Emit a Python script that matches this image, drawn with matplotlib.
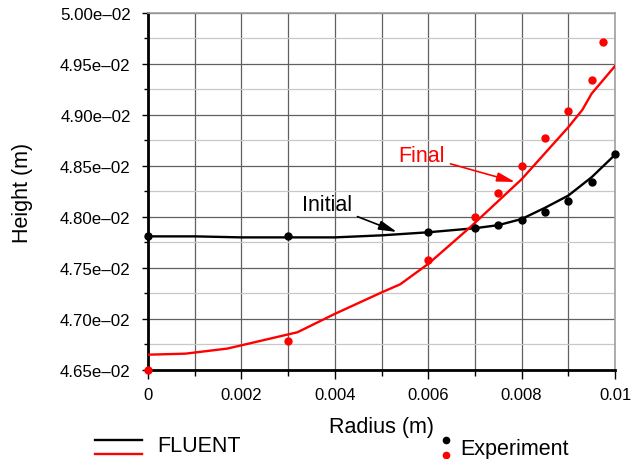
import matplotlib
matplotlib.use("Agg")
import matplotlib.pyplot as plt
from matplotlib.lines import Line2D
from matplotlib.ticker import MultipleLocator, FuncFormatter

plt.rcParams["font.family"] = ["Liberation Sans", "DejaVu Sans"]

# FLUENT profiles (radius in m, height in m)
fluent_initial_r = [0, 0.001, 0.002, 0.003, 0.004, 0.005, 0.006, 0.007,
                    0.0075, 0.008, 0.0085, 0.009, 0.0095, 0.01]
fluent_initial_h = [4.781e-2, 4.781e-2, 4.780e-2, 4.780e-2, 4.780e-2, 4.782e-2,
                    4.785e-2, 4.789e-2, 4.792e-2, 4.798e-2, 4.809e-2, 4.821e-2,
                    4.839e-2, 4.861e-2]

fluent_final_r = [0, 0.0008, 0.0017, 0.0032, 0.004, 0.005, 0.0054, 0.006,
                  0.0069, 0.008, 0.009, 0.0093, 0.0095, 0.01]
fluent_final_h = [4.665e-2, 4.666e-2, 4.671e-2, 4.687e-2, 4.705e-2, 4.726e-2,
                  4.734e-2, 4.754e-2, 4.790e-2, 4.837e-2, 4.888e-2, 4.905e-2,
                  4.921e-2, 4.948e-2]

# experiment points
exp_initial_r = [0, 0.003, 0.006, 0.007, 0.0075, 0.008, 0.0085, 0.009, 0.0095, 0.01]
exp_initial_h = [4.781e-2, 4.781e-2, 4.785e-2, 4.789e-2, 4.792e-2, 4.797e-2,
                 4.805e-2, 4.816e-2, 4.834e-2, 4.862e-2]

exp_final_r = [0, 0.003, 0.006, 0.007, 0.0075, 0.008, 0.0085, 0.009, 0.0095, 0.00975]
exp_final_h = [4.650e-2, 4.678e-2, 4.758e-2, 4.800e-2, 4.824e-2, 4.850e-2,
               4.877e-2, 4.904e-2, 4.934e-2, 4.972e-2]

fig = plt.figure(figsize=(6.44, 4.60), dpi=100)
ax = fig.add_axes([0.2298, 0.1935, 0.7252, 0.7761])

ax.plot(fluent_initial_r, fluent_initial_h, color="black", lw=1.7, zorder=3)
ax.plot(fluent_final_r, fluent_final_h, color="red", lw=1.7, zorder=3)
ax.plot(exp_initial_r, exp_initial_h, "o", color="black", ms=5, zorder=4, clip_on=False)
ax.plot(exp_final_r, exp_final_h, "o", color="red", ms=5, zorder=4, clip_on=False)

ax.set_xlim(0, 0.01)
ax.set_ylim(0.0465, 0.0500)

ax.xaxis.set_major_locator(MultipleLocator(0.002))
ax.xaxis.set_minor_locator(MultipleLocator(0.001))
ax.yaxis.set_major_locator(MultipleLocator(0.0005))
ax.yaxis.set_minor_locator(MultipleLocator(0.00025))


def xfmt(v, pos):
    return "0" if abs(v) < 1e-12 else f"{v:g}"


def yfmt(v, pos):
    return f"{v:.2e}".replace("-", "\u2013")


ax.xaxis.set_major_formatter(FuncFormatter(xfmt))
ax.yaxis.set_major_formatter(FuncFormatter(yfmt))

ax.tick_params(axis="x", which="major", direction="out", length=6.5, width=1,
               labelsize=12, pad=6)
ax.tick_params(axis="x", which="minor", direction="out", length=4, width=1)
ax.tick_params(axis="y", which="major", direction="out", length=4.5, width=1,
               labelsize=12.2, pad=8)
ax.tick_params(axis="y", which="minor", direction="out", length=3, width=1)

ax.grid(True, which="major", axis="both", color="#606060", lw=0.9)
ax.grid(True, which="minor", axis="x", color="#606060", lw=0.9)
ax.grid(True, which="minor", axis="y", color="#c8c8c8", lw=0.9)
ax.set_axisbelow(True)

ax.spines["left"].set_linewidth(2)
ax.spines["bottom"].set_linewidth(2)
for s in ("top", "right"):
    ax.spines[s].set_color("#a0a0a0")
    ax.spines[s].set_linewidth(1.2)

ax.set_xlabel("Radius (m)", fontsize=15.5, labelpad=10)
ax.set_ylabel("Height (m)", fontsize=15.5, labelpad=19)

ax.annotate("Initial", xy=(0.00533, 0.047853), xytext=(0.00437, 0.04812),
            ha="right", va="center", fontsize=15.5, color="black",
            arrowprops=dict(arrowstyle="-|>,head_length=0.7,head_width=0.18",
                            color="black", lw=1.2, shrinkA=2, shrinkB=0))
ax.annotate("Final", xy=(0.00786, 0.048343), xytext=(0.00636, 0.04860),
            ha="right", va="center", fontsize=15.5, color="red",
            arrowprops=dict(arrowstyle="-|>,head_length=0.7,head_width=0.18",
                            color="red", lw=1.2, shrinkA=2, shrinkB=0))

# legend drawn below the axes
fig.add_artist(Line2D([95 / 644, 142 / 644], [1 - 441 / 460, 1 - 441 / 460], color="black", lw=1.7))
fig.add_artist(Line2D([95 / 644, 142 / 644], [1 - 455 / 460, 1 - 455 / 460], color="red", lw=1.7))
fig.text(157 / 644, 1 - 447 / 460, "FLUENT", fontsize=15.5, va="center", ha="left")
fig.add_artist(Line2D([446 / 644], [1 - 441 / 460], marker="o", color="black", ms=4.5, lw=0))
fig.add_artist(Line2D([446 / 644], [1 - 456 / 460], marker="o", color="red", ms=4.5, lw=0))
fig.text(460 / 644, 1 - 450 / 460, "Experiment", fontsize=15.5, va="center", ha="left")

fig.savefig("out.png", dpi=100)
